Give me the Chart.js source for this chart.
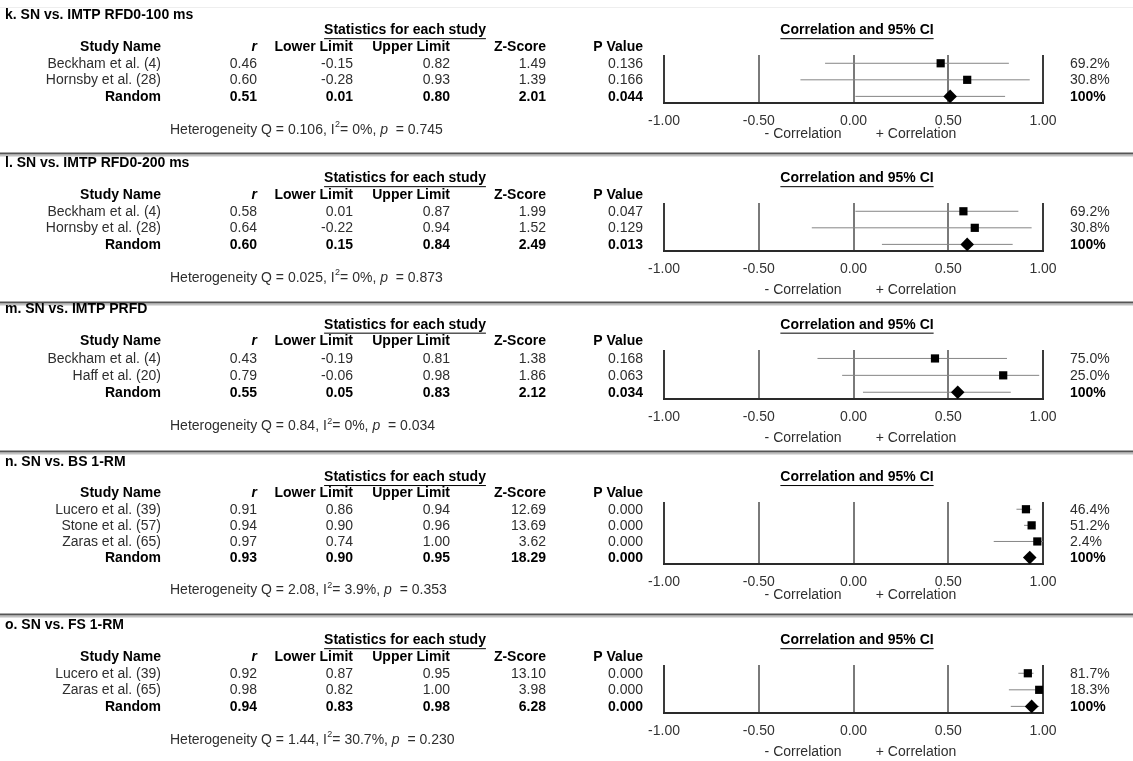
<!DOCTYPE html>
<html>
<head>
<meta charset="utf-8">
<script src="https://cdn.jsdelivr.net/npm/chart.js@4.4.1/dist/chart.umd.min.js"></script>
<style>
  html, body { margin: 0; padding: 0; background: #fff; }
  #page { position: relative; width: 1133px; height: 761px; overflow: hidden; background: #fff; }
  #page canvas { position: absolute; left: 0; }
</style>
</head>
<body>
<div id="page"></div>
<script>
// ---- k. SN vs. IMTP RFD0-100 ms ----
const kTitle = 'k. SN vs. IMTP RFD0-100 ms';
const kStudies = ['Beckham et al. (4)', 'Hornsby et al. (28)', 'Random'];
const kR = [0.46, 0.60, 0.51];
const kLower = [-0.15, -0.28, 0.01];
const kUpper = [0.82, 0.93, 0.80];
const kZ = [1.49, 1.39, 2.01];
const kP = [0.136, 0.166, 0.044];
const kWeights = [69.2, 30.8, 100];
const kHet = ['0.106', 0, 0.745];

// ---- l. SN vs. IMTP RFD0-200 ms ----
const lTitle = 'l. SN vs. IMTP RFD0-200 ms';
const lStudies = ['Beckham et al. (4)', 'Hornsby et al. (28)', 'Random'];
const lR = [0.58, 0.64, 0.60];
const lLower = [0.01, -0.22, 0.15];
const lUpper = [0.87, 0.94, 0.84];
const lZ = [1.99, 1.52, 2.49];
const lP = [0.047, 0.129, 0.013];
const lWeights = [69.2, 30.8, 100];
const lHet = ['0.025', 0, 0.873];

// ---- m. SN vs. IMTP PRFD ----
const mTitle = 'm. SN vs. IMTP PRFD';
const mStudies = ['Beckham et al. (4)', 'Haff et al. (20)', 'Random'];
const mR = [0.43, 0.79, 0.55];
const mLower = [-0.19, -0.06, 0.05];
const mUpper = [0.81, 0.98, 0.83];
const mZ = [1.38, 1.86, 2.12];
const mP = [0.168, 0.063, 0.034];
const mWeights = [75.0, 25.0, 100];
const mHet = ['0.84', 0, 0.034];

// ---- n. SN vs. BS 1-RM ----
const nTitle = 'n. SN vs. BS 1-RM';
const nStudies = ['Lucero et al. (39)', 'Stone et al. (57)', 'Zaras et al. (65)', 'Random'];
const nR = [0.91, 0.94, 0.97, 0.93];
const nLower = [0.86, 0.90, 0.74, 0.90];
const nUpper = [0.94, 0.96, 1.00, 0.95];
const nZ = [12.69, 13.69, 3.62, 18.29];
const nP = [0.000, 0.000, 0.000, 0.000];
const nWeights = [46.4, 51.2, 2.4, 100];
const nHet = ['2.08', 3.9, 0.353];

// ---- o. SN vs. FS 1-RM ----
const oTitle = 'o. SN vs. FS 1-RM';
const oStudies = ['Lucero et al. (39)', 'Zaras et al. (65)', 'Random'];
const oR = [0.92, 0.98, 0.94];
const oLower = [0.87, 0.82, 0.83];
const oUpper = [0.95, 1.00, 0.98];
const oZ = [13.10, 3.98, 6.28];
const oP = [0.000, 0.000, 0.000];
const oWeights = [81.7, 18.3, 100];
const oHet = ['1.44', 30.7, 0.230];

// Axis tick values and column headings
const tickValues = [-1, -0.5, 0, 0.5, 1];
const columnHeads = ['Study Name', 'r', 'Lower Limit', 'Upper Limit', 'Z-Score', 'P Value'];

const panels = [
  { title: kTitle, studies: kStudies, r: kR, lower: kLower, upper: kUpper, z: kZ, p: kP, weights: kWeights, het: kHet },
  { title: lTitle, studies: lStudies, r: lR, lower: lLower, upper: lUpper, z: lZ, p: lP, weights: lWeights, het: lHet },
  { title: mTitle, studies: mStudies, r: mR, lower: mLower, upper: mUpper, z: mZ, p: mP, weights: mWeights, het: mHet },
  { title: nTitle, studies: nStudies, r: nR, lower: nLower, upper: nUpper, z: nZ, p: nP, weights: nWeights, het: nHet },
  { title: oTitle, studies: oStudies, r: oR, lower: oLower, upper: oUpper, z: oZ, p: oP, weights: oWeights, het: oHet }
];

// Page geometry of each block (pixels)
const frames = [
  { top: 0,   bottom: 152, plotTop: 55,  plotBottom: 103, yMin: -0.5,  yMax: 2.4, captionGap: 31, separator: false },
  { top: 152, bottom: 301, plotTop: 203, plotBottom: 251, yMin: -0.5,  yMax: 2.4, captionGap: 39, separator: true },
  { top: 301, bottom: 450, plotTop: 350, plotBottom: 399, yMin: -0.5,  yMax: 2.4, captionGap: 39, separator: true },
  { top: 450, bottom: 613, plotTop: 502, plotBottom: 564, yMin: -0.45, yMax: 3.4, captionGap: 31, separator: true },
  { top: 613, bottom: 761, plotTop: 665, plotBottom: 713, yMin: -0.5,  yMax: 2.4, captionGap: 39, separator: true }
];

const PAGE_W = 1133;
const PLOT_LEFT = 664;
const PLOT_RIGHT = 1043;
const AXIS_H = 36;
const FONT = '"Liberation Sans", Arial, Helvetica, sans-serif';
const colRight = [161, 257, 353, 450, 546, 643];
const TEXT = '#2e2e2e';

function setFont(ctx, size, weight, style) {
  ctx.font = `${style || 'normal'} ${weight || 'normal'} ${size}px ${FONT}`;
}
function text(ctx, s, x, y, align, weight, color, style, size) {
  setFont(ctx, size || 14, weight, style);
  ctx.fillStyle = color || TEXT;
  ctx.textAlign = align || 'left';
  ctx.textBaseline = 'middle';
  ctx.fillText(s, x, y);
  return ctx.measureText(s).width;
}
function underlinedTitle(ctx, s, cx, y) {
  const w = text(ctx, s, cx, y, 'center', 'bold', '#000');
  ctx.fillStyle = '#000';
  ctx.fillRect(cx - w / 2, y + 8, w, 1);
}
function fmtWeight(w) { return w === 100 ? '100%' : w.toFixed(1) + '%'; }
function fmtI2(v) { return v === 0 ? '0%' : v.toFixed(1) + '%'; }

function makeTablePlugin(p, f) {
  return {
    id: 'forestTable',
    beforeDraw(chart) {
      const ctx = chart.ctx;
      ctx.save();
      if (f.separator) {
        ctx.fillStyle = '#555';
        ctx.fillRect(0, 0.5, chart.width, 2);
        ctx.fillStyle = '#c0c0c0';
        ctx.fillRect(0, 3, chart.width, 1.5);
      } else {
        ctx.fillStyle = '#eeeeee';
        ctx.fillRect(0, 7, chart.width, 1);
      }
      ctx.restore();
    },
    afterDraw(chart) {
      const ctx = chart.ctx;
      const ys = chart.scales.y;
      const xs = chart.scales.x;
      const row = i => ys.getPixelForValue(i);
      const last = p.studies.length - 1;
      ctx.save();

      // block title
      text(ctx, p.title, 5, row(-2.92), 'left', 'bold', '#000');

      // group headings
      underlinedTitle(ctx, 'Statistics for each study', 405, row(-2));
      underlinedTitle(ctx, 'Correlation and 95% CI', 857, row(-2));

      // column headings
      columnHeads.forEach((h, c) => {
        text(ctx, h, colRight[c], row(-1), 'right', 'bold', '#000', c === 1 ? 'italic' : 'normal');
      });

      // study rows
      p.studies.forEach((name, i) => {
        const bold = i === last ? 'bold' : 'normal';
        const col = i === last ? '#000' : TEXT;
        const y = row(i) + 0.5;
        text(ctx, name, colRight[0], y, 'right', bold, col);
        text(ctx, p.r[i].toFixed(2), colRight[1], y, 'right', bold, col);
        text(ctx, p.lower[i].toFixed(2), colRight[2], y, 'right', bold, col);
        text(ctx, p.upper[i].toFixed(2), colRight[3], y, 'right', bold, col);
        text(ctx, p.z[i].toFixed(2), colRight[4], y, 'right', bold, col);
        text(ctx, p.p[i].toFixed(3), colRight[5], y, 'right', bold, col);
        text(ctx, fmtWeight(p.weights[i]), xs.right + 27, y, 'left', bold, col);
      });

      // heterogeneity line
      const hy = row(last + 2) + 0.5;
      let hx = 170;
      hx += text(ctx, 'Heterogeneity Q = ' + p.het[0] + ', I', hx, hy, 'left');
      hx += text(ctx, '2', hx + 0.5, hy - 5, 'left', 'normal', TEXT, 'normal', 9) + 0.5;
      hx += text(ctx, '= ' + fmtI2(p.het[1]) + ', ', hx, hy, 'left');
      hx += text(ctx, 'p', hx, hy, 'left', 'normal', TEXT, 'italic');
      text(ctx, '  = ' + p.het[2].toFixed(3), hx, hy, 'left');

      // direction captions under the axis
      const cy = (f.plotBottom - f.top) + f.captionGap + 0.5;
      text(ctx, '- Correlation', xs.getPixelForValue(-0.266), cy, 'center');
      text(ctx, '+ Correlation', xs.getPixelForValue(0.33), cy, 'center');

      ctx.restore();
    }
  };
}

const page = document.getElementById('page');

panels.forEach((p, k) => {
  const f = frames[k];
  const h = f.bottom - f.top;
  const canvas = document.createElement('canvas');
  canvas.width = PAGE_W;
  canvas.height = h;
  canvas.style.top = f.top + 'px';
  canvas.style.width = PAGE_W + 'px';
  canvas.style.height = h + 'px';
  page.appendChild(canvas);

  const last = p.studies.length - 1;
  const ciSets = p.studies.map((s, i) => ({
    label: s + ' CI',
    data: [{ x: p.lower[i], y: i }, { x: p.upper[i], y: i }],
    showLine: true,
    borderColor: '#858585',
    borderWidth: 1,
    pointRadius: 0,
    order: 2
  }));
  const studyPoints = {
    label: 'Studies',
    data: p.r.slice(0, last).map((v, i) => ({ x: v, y: i })),
    pointStyle: 'rect',
    pointRadius: 5.8,
    backgroundColor: '#000',
    borderColor: '#000',
    borderWidth: 0,
    order: 0
  };
  const pooledPoint = {
    label: 'Random',
    data: [{ x: p.r[last], y: last }],
    pointStyle: 'rectRot',
    pointRadius: 6.8,
    backgroundColor: '#000',
    borderColor: '#000',
    borderWidth: 0,
    order: 0
  };

  new Chart(canvas, {
    type: 'scatter',
    data: { datasets: [...ciSets, studyPoints, pooledPoint] },
    options: {
      responsive: false,
      animation: false,
      events: [],
      layout: {
        padding: {
          left: PLOT_LEFT,
          right: PAGE_W - PLOT_RIGHT,
          top: f.plotTop - f.top,
          bottom: h - (f.plotBottom - f.top) - AXIS_H
        }
      },
      plugins: { legend: { display: false }, tooltip: { enabled: false } },
      scales: {
        x: {
          type: 'linear',
          min: -1,
          max: 1,
          afterBuildTicks: s => { s.ticks = tickValues.map(v => ({ value: v })); },
          afterFit: s => { s.height = AXIS_H; },
          ticks: {
            callback: v => Number(v).toFixed(2),
            color: '#333',
            font: { family: FONT, size: 14 },
            padding: 10,
            maxRotation: 0,
            autoSkip: false
          },
          grid: {
            color: c => (c.tick && Math.abs(c.tick.value) === 1 ? '#3a3a3a' : '#7a7a7a'),
            lineWidth: 2,
            drawTicks: false
          },
          border: { display: true, color: '#2a2a2a', width: 2 }
        },
        y: {
          type: 'linear',
          display: false,
          reverse: true,
          min: f.yMin,
          max: f.yMax
        }
      }
    },
    plugins: [makeTablePlugin(p, f)]
  });
});
</script>
</body>
</html>
